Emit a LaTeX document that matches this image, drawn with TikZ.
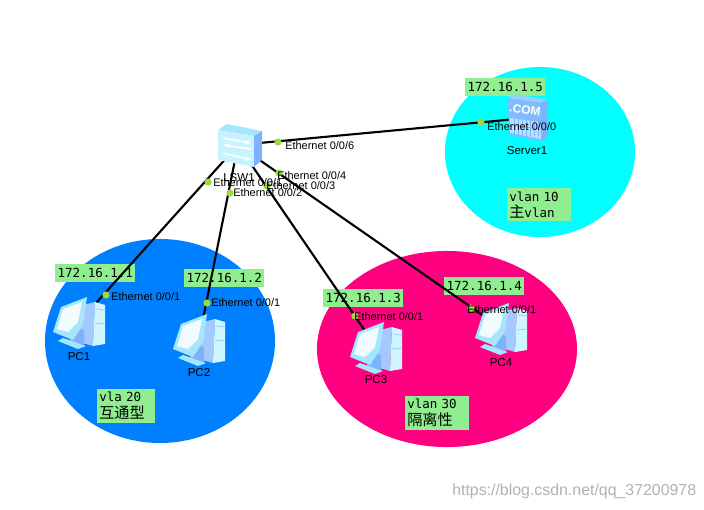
\documentclass[tikz,border=0pt]{standalone}
\usepackage{fontspec}
\setmainfont{Liberation Sans}
\setmonofont{DejaVu Sans Mono}
\newfontfamily\cjk{Noto Sans CJK SC}
\usetikzlibrary{positioning,shapes.geometric,arrows.meta}
\definecolor{vlanblue}{HTML}{0080FF}
\definecolor{vlanpink}{HTML}{FF0080}
\definecolor{vlancyan}{HTML}{00FFFF}
\definecolor{tagbg}{HTML}{90EE90}
\definecolor{portdot}{HTML}{9ADB3A}
\definecolor{iconpale}{HTML}{CFF6FF}
\definecolor{iconmid}{HTML}{A6E6FA}
\definecolor{iconblue}{HTML}{7DB2FF}
\tikzset{
    pcicon/.pic={
        \fill[iconblue!70!white](4,-17)--(16,-20)--(14,24)--(0,20)--cycle;
        \fill[iconpale](16,-20)--(26,-17)--(26,22)--(14,24)--cycle;
        \draw[iconblue!70!white,line width=0.6pt](17,-13)--(26,-12)(16,2)--(26,1);
        \fill[iconblue](-9,4)--(5,8)--(5,23)--(-9,19)--cycle;
        \fill[iconmid](-21,19)--(-16,16)--(7,24)--(-1,27)--cycle;
        \fill[iconmid](-26,10)--(-18,-15)--(8,-25)--(4,3)--(-6,18)--cycle;
        \fill[white!70!iconpale](-22,7)--(-16,-13)--(3,-20)--(-1,0)--(-11,10)--cycle;
    },
    swicon/.pic={
        \fill[iconmid](-20,-15)--(-11,-21)--(24,-14)--(16,-9)--cycle;
        \fill[iconpale!80!iconmid](-20,-15)--(16,-9)--(16,22)--(-20,15)--cycle;
        \fill[iconblue](16,-9)--(24,-14)--(24,15)--(16,22)--cycle;
        \draw[-{Stealth[length=4.5pt]},white,line width=1.1pt](-15,-7)--(13,-2);
        \draw[-{Stealth[length=4.5pt]},white,line width=1.1pt](13,4)--(-15,0);
        \draw[-{Stealth[length=4.5pt]},white,line width=1.1pt](-15,8)--(13,15);
    },
    srvicon/.pic={
        \fill[iconmid!60!iconblue](-19,-20)--(-12,-24)--(21,-18)--(13,-15)--cycle;
        \fill[iconblue!85!iconmid](-19,-20)--(13,-15)--(15,23)--(-18,17)--cycle;
        \fill[iconblue](13,-15)--(21,-18)--(21,17)--(15,23)--cycle;
        \fill[iconpale!70!iconblue](-17,0)--(13,4)--(14,21)--(-17,15)--cycle;
        \foreach \gx in {-13,-9,-5,-1,3,7,11}{\draw[iconblue,line width=0.4pt](\gx,1)--(\gx,18);}
        \draw[iconblue,line width=0.4pt](-17,7)--(13,11);
        \node[white,font=\fontsize{8.5}{9}\selectfont\bfseries,rotate=-8]at(-2,-8){.COM};
    }
}
\begin{document}
\begin{tikzpicture}[x=0.025cm,y=-0.025cm,
    hub/.style={coordinate},
    zone/.style={ellipse,minimum width=#1},
    link/.style={line width=1.5pt},
    dot/.style={circle,fill=portdot,minimum size=0.18cm,inner sep=0pt},
    port/.style={anchor=west,inner sep=0pt,font=\fontsize{7.8}{9}\selectfont},
    devname/.style={inner sep=0pt,font=\fontsize{8.2}{10}\selectfont},
    iptag/.style={anchor=north west,fill=tagbg,minimum width=2cm,minimum height=0.44cm,inner sep=0pt,font=\ttfamily\fontsize{8.9}{10}\selectfont},
    vlantag/.style={anchor=north west,fill=tagbg,align=left,minimum height=0.83cm,inner xsep=0.05cm,inner ysep=0pt,font=\ttfamily\fontsize{8.9}{11.6}\selectfont}]
    \useasboundingbox(0,0)rectangle(704,509);
    \fill[white](0,0)rectangle(704,509);
    \node[zone=5.75cm,fill=vlanblue,minimum height=5.1cm] (zoneb) at (160,341) {};
    \node[zone=6.5cm,fill=vlanpink,minimum height=4.9cm] (zonep) at (447,349) {};
    \node[zone=4.75cm,fill=vlancyan,minimum height=4.25cm] (zonec) at (540,152) {};
    \node[iptag] (ip1) at (55,264) {172.16.1.1};
    \node[iptag] (ip2) at (184,269) {172.16.1.2};
    \node[iptag] (ip3) at (323,289) {172.16.1.3};
    \node[iptag] (ip4) at (444,277) {172.16.1.4};
    \node[iptag] (ip5) at (465,78) {172.16.1.5};
    \node[vlantag,text width=1.35cm] (tagb) at (97,389) {vla 20\\{\cjk\fontsize{10.8}{12}\selectfont 互通型}};
    \node[vlantag,text width=1.5cm] (tagp) at (405,396) {vlan 30\\{\cjk\fontsize{10.8}{12}\selectfont 隔离性}};
    \node[vlantag,text width=1.5cm] (tagc) at (507,188) {vlan 10\\{\cjk\fontsize{10.8}{12}\selectfont 主}vlan};
    \node[hub] (lsw1) at (238,145) {};
    \node[hub] (pc1) at (79,322) {};
    \node[hub] (pc2) at (199,339) {};
    \node[hub] (pc3) at (376,347) {};
    \node[hub] (pc4) at (501,328) {};
    \node[hub] (srv1) at (527,118) {};
    \draw[link](lsw1)--(pc1);\draw[link](lsw1)--(pc2);
    \draw[link](lsw1)--(pc3);\draw[link](lsw1)--(pc4);
    \draw[link](lsw1)--(srv1);
    \pic at (lsw1) {swicon};
    \pic at (pc1) {pcicon};
    \pic at (pc2) {pcicon};
    \pic at (pc3) {pcicon};
    \pic at (pc4) {pcicon};
    \pic at (srv1) {srvicon};
    \node[devname] (lsw1name) at (239,178) {LSW1};
    \node[devname] (pc1name) at (79,357) {PC1};
    \node[devname] (pc2name) at (199,373) {PC2};
    \node[devname] (pc3name) at (376,380) {PC3};
    \node[devname] (pc4name) at (501,363) {PC4};
    \node[devname] (srv1name) at (527,151) {Server1};
    \foreach \dotname/\dotx/\doty in {d1/208/182,d2/230/193,d3/267/186,d4/279/173,d6/278/142,
        e1/106/295,e2/207/303,e3/355/316,e4/471/308,e5/481/122}{
        \node[dot] (\dotname) at (\dotx,\doty) {};
    }
    \node[port] at (213,183) {Ethernet 0/0/1};
    \node[port] at (233,193) {Ethernet 0/0/2};
    \node[port] at (266,186) {Ethernet 0/0/3};
    \node[port] at (277,176) {Ethernet 0/0/4};
    \node[port] at (285,146) {Ethernet 0/0/6};
    \node[port] at (111,297) {Ethernet 0/0/1};
    \node[port] at (211,303) {Ethernet 0/0/1};
    \node[port] at (354,317) {Ethernet 0/0/1};
    \node[port] at (467,310) {Ethernet 0/0/1};
    \node[port] at (487,127) {Ethernet 0/0/0};
    \node[gray!60,anchor=west,inner sep=0pt,font=\fontsize{11.3}{13}\selectfont] (mark) at (452,491) {https://blog.csdn.net/qq\_37200978};
\end{tikzpicture}
\end{document}
